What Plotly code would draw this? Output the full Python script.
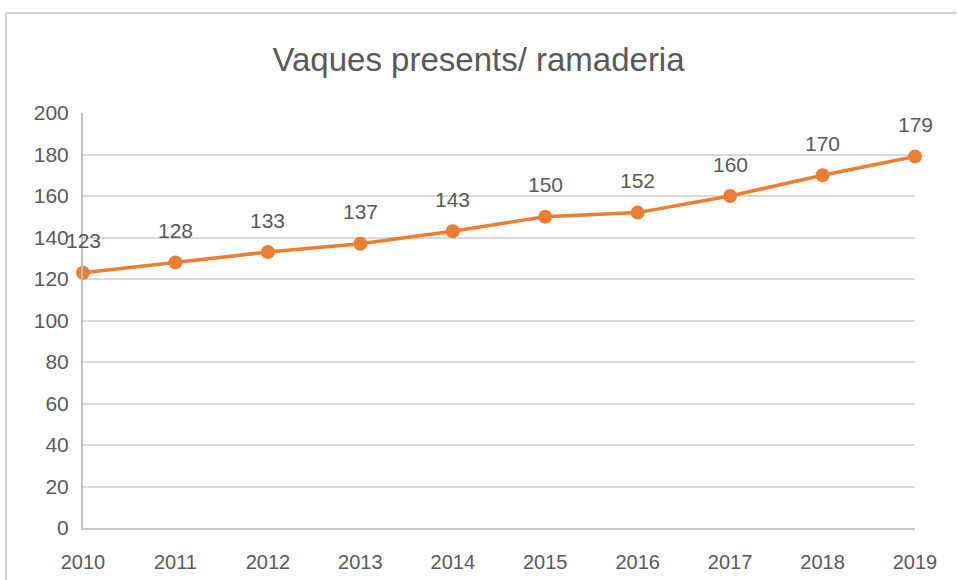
import plotly.graph_objects as go

years = [2010, 2011, 2012, 2013, 2014, 2015, 2016, 2017, 2018, 2019]
cows = [123, 128, 133, 137, 143, 150, 152, 160, 170, 179]
y_ticks = [0, 20, 40, 60, 80, 100, 120, 140, 160, 180, 200]

orange = "#ED7D31"
txt = "#595959"
font = "Liberation Sans"

fig = go.Figure()
fig.add_trace(go.Scatter(
    x=years, y=cows, mode="lines+markers",
    line=dict(color=orange, width=3.5),
    marker=dict(color=orange, size=14),
    cliponaxis=False, hoverinfo="skip", showlegend=False,
))

for x, y in zip(years, cows):
    fig.add_annotation(x=x, y=y, text=str(y), showarrow=False, yshift=32,
                       font=dict(family=font, size=21, color=txt))

L, R, T, B = 83, 42, 113, 52
W, H = 957, 580
pw, ph = W - L - R, H - T - B

# chart border (top and left edges visible)
fig.add_shape(type="line", xref="paper", yref="paper",
              x0=(6 - L) / pw, x1=(956 - L) / pw,
              y0=(H - B - 13) / ph, y1=(H - B - 13) / ph,
              line=dict(color="#D0D0D0", width=2))
fig.add_shape(type="line", xref="paper", yref="paper",
              x0=(6 - L) / pw, x1=(6 - L) / pw,
              y0=(H - B - 13) / ph, y1=(H - B - 585) / ph,
              line=dict(color="#D0D0D0", width=2))

fig.update_layout(
    width=W, height=H,
    margin=dict(l=L, r=R, t=T, b=B, autoexpand=False),
    paper_bgcolor="white", plot_bgcolor="white",
    title=dict(text="Vaques presents/ ramaderia", x=0.5, xanchor="center",
               y=1 - 59 / H, yanchor="middle",
               font=dict(family=font, size=33, color=txt)),
    xaxis=dict(range=[2010, 2019], tickvals=years, ticktext=[str(v) for v in years],
               showgrid=False, zeroline=False, showline=True,
               linecolor="#C8C8C8", linewidth=2, automargin=False,
               ticks="outside", ticklen=15, tickcolor="rgba(0,0,0,0)",
               tickfont=dict(family=font, size=20, color=txt)),
    yaxis=dict(range=[0, 200], tickvals=y_ticks, automargin=False,
               showgrid=True, gridcolor="#D9D9D9", gridwidth=2,
               zeroline=False, showline=True, linecolor="#BFBFBF", linewidth=2,
               ticks="outside", ticklen=8, tickcolor="rgba(0,0,0,0)",
               tickfont=dict(family=font, size=21, color=txt)),
    font=dict(family=font, color=txt),
)

fig.write_html("out.html", config={"displayModeBar": False},
               post_script="document.body.style.margin='0';")
